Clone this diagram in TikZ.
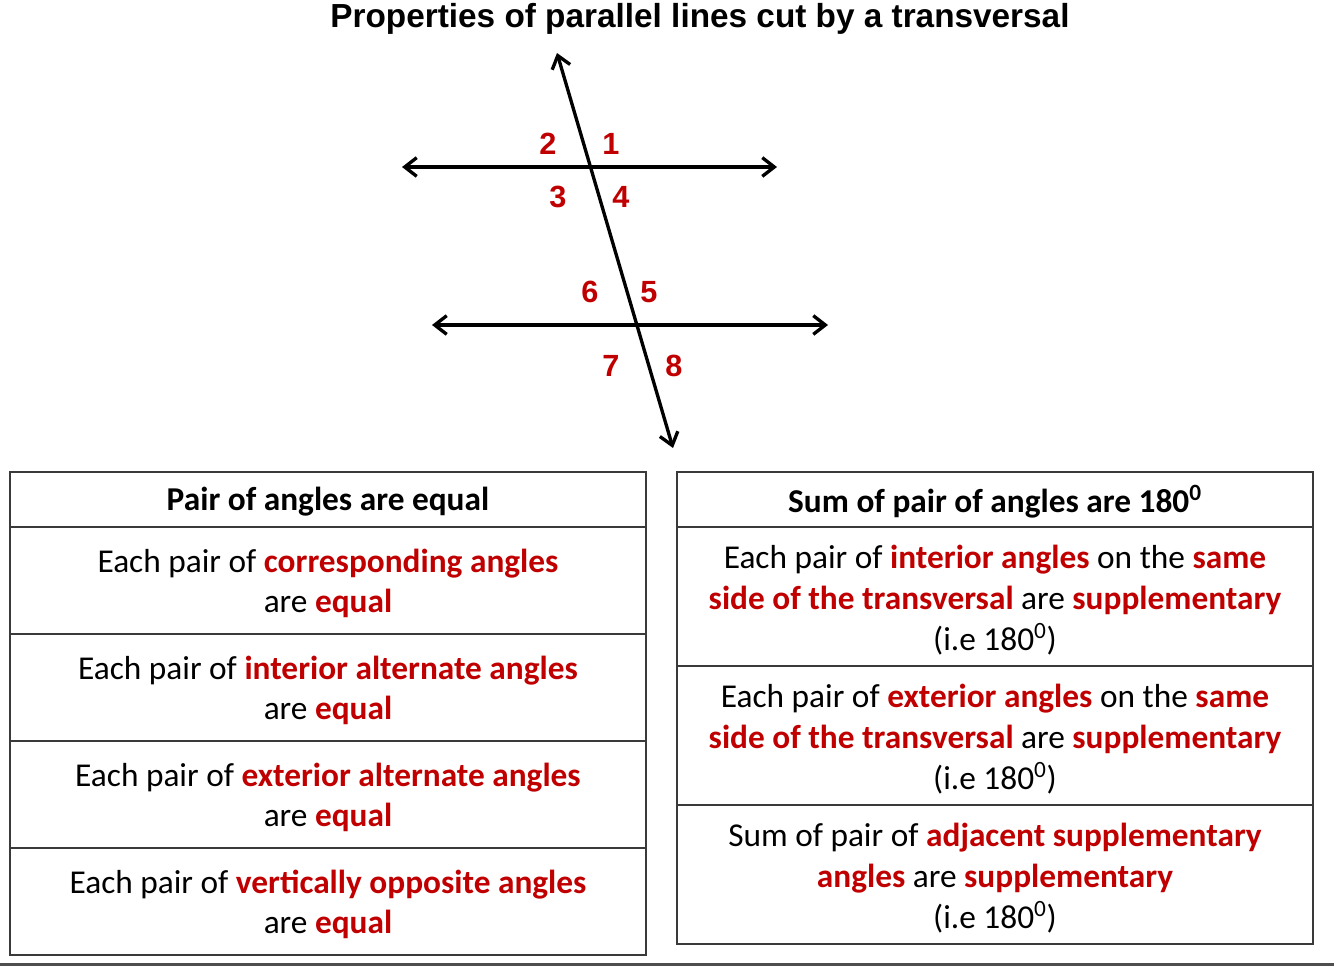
\documentclass[tikz,border=0pt]{standalone}
\usepackage{fontspec}
\setmainfont{Carlito}
\newfontfamily\titlefont{Liberation Sans}
\usetikzlibrary{arrows.meta}
\definecolor{kred}{HTML}{C00000}
\definecolor{kline}{HTML}{3A3A3A}
\newcommand{\rd}[1]{\textcolor{kred}{\bfseries #1}}
\tikzset{
  px/.style={x=0.75pt,y=-0.75pt},
  geoline/.style={line width=2.5pt,{Straight Barb[length=9pt,width=14pt,line width=2.5pt]}-{Straight Barb[length=9pt,width=14pt,line width=2.5pt]}},
  anglelabel/.style={font=\titlefont\bfseries\fontsize{23}{27}\selectfont,text=kred,inner sep=0pt},
  tableline/.style={draw=kline,line width=1.6pt},
  celltext/.style={inner sep=0pt,align=center,font=\fontsize{25}{30.5}\selectfont},
  headtext/.style={celltext,font=\bfseries\fontsize{25}{30}\selectfont},
}
\begin{document}
\begin{tikzpicture}[px]
\useasboundingbox (0,0) rectangle (1334,967);
% title
\node[font=\titlefont\bfseries\fontsize{25}{30}\selectfont,inner sep=0pt] (title) at (700,19) {Properties of parallel lines cut by a transversal};
% geometry
\coordinate (tT) at (557,53);
\coordinate (tB) at (673,448);
\coordinate (uL) at (402,167);
\coordinate (uR) at (777,167);
\coordinate (lL) at (432,325);
\coordinate (lR) at (828,325);
\draw[geoline] (uL) -- (uR);
\draw[geoline] (lL) -- (lR);
\draw[geoline] (tT) -- (tB);
\node[anglelabel] (a2) at (548,144) {2};
\node[anglelabel] (a1) at (611,144) {1};
\node[anglelabel] (a3) at (558,197) {3};
\node[anglelabel] (a4) at (621,197) {4};
\node[anglelabel] (a6) at (590,292) {6};
\node[anglelabel] (a5) at (649,292) {5};
\node[anglelabel] (a7) at (611,366) {7};
\node[anglelabel] (a8) at (674,366) {8};
% left table
\draw[tableline] (10,472) rectangle (646,527);
\draw[tableline] (10,527) rectangle (646,634);
\draw[tableline] (10,634) rectangle (646,741);
\draw[tableline] (10,741) rectangle (646,848);
\draw[tableline] (10,848) rectangle (646,955);
\node[headtext] (lh) at (328,501.5) {Pair of angles are equal};
\node[celltext] (l1) at (328,583.5) {Each pair of \rd{corresponding angles}\\are \rd{equal}};
\node[celltext] (l2) at (328,690.5) {Each pair of \rd{interior alternate angles}\\are \rd{equal}};
\node[celltext] (l3) at (328,797.5) {Each pair of \rd{exterior alternate angles}\\are \rd{equal}};
\node[celltext] (l4) at (328,904.5) {Each pair of \rd{vertically opposite angles}\\are \rd{equal}};
% right table
\draw[tableline] (677,472) rectangle (1313,527);
\draw[tableline] (677,527) rectangle (1313,666);
\draw[tableline] (677,666) rectangle (1313,805);
\draw[tableline] (677,805) rectangle (1313,944);
\node[headtext] (rh) at (995,501.5) {Sum of pair of angles are 180\textsuperscript{0}};
\node[celltext] (r1) at (995,600) {Each pair of \rd{interior angles} on the \rd{same}\\\rd{side of the transversal} are \rd{supplementary}\\(i.e 180\textsuperscript{0})};
\node[celltext] (r2) at (995,739) {Each pair of \rd{exterior angles} on the \rd{same}\\\rd{side of the transversal} are \rd{supplementary}\\(i.e 180\textsuperscript{0})};
\node[celltext] (r3) at (995,878) {Sum of pair of \rd{adjacent supplementary}\\\rd{angles} are \rd{supplementary}\\(i.e 180\textsuperscript{0})};
% bottom rule
\coordinate (bL) at (0,964.5);
\coordinate (bR) at (1334,964.5);
\draw[line width=2.2pt,color=kline!90] (bL) -- (bR);
\end{tikzpicture}
\end{document}
